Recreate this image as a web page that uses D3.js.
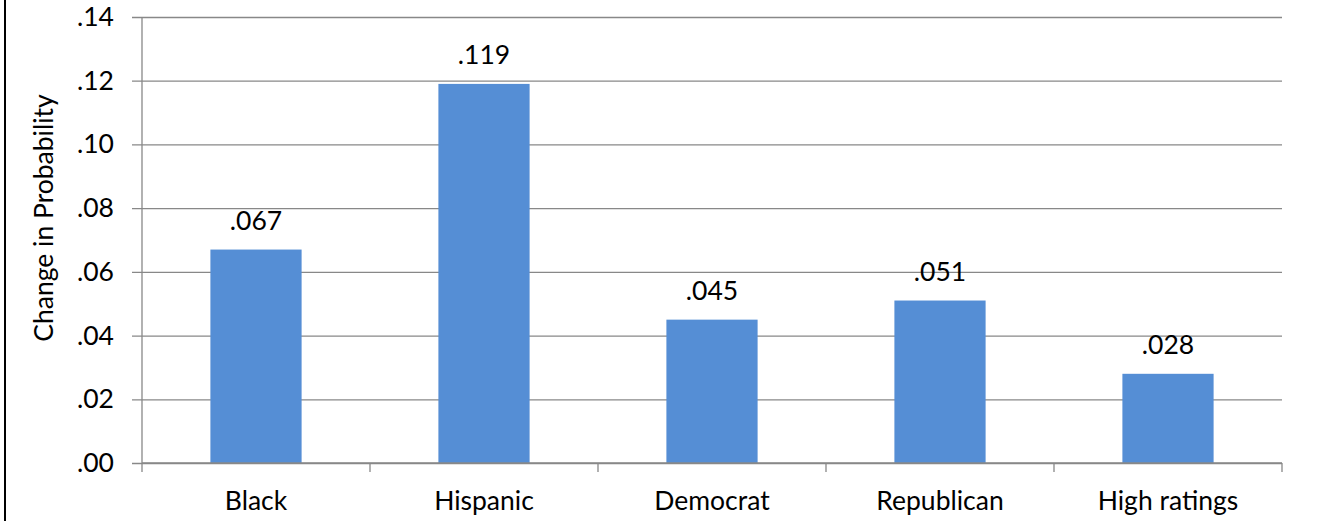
<!DOCTYPE html>
<html>
<head>
<meta charset="utf-8">
<script src="https://cdn.jsdelivr.net/npm/d3@7"></script>
<style>
  html, body { margin: 0; padding: 0; background: #fff; }
  svg text { font-family: Lato, 'Open Sans', sans-serif; fill: #000; }
</style>
</head>
<body>
<div id="chart"></div>
<script>
// values
const categories = ['Black', 'Hispanic', 'Democrat', 'Republican', 'High ratings'];
const values = [0.067, 0.119, 0.045, 0.051, 0.028];
const yTicks = [0, 0.02, 0.04, 0.06, 0.08, 0.10, 0.12, 0.14];

const W = 1327, H = 521;
const margin = { top: 17, right: 45, bottom: 58, left: 142 };
const width = W - margin.left - margin.right;
const height = H - margin.top - margin.bottom;
const fontSize = '26.5px';

const root = d3.select('#chart').append('svg')
  .attr('width', W)
  .attr('height', H);

// left border of the chart frame
root.append('line')
  .attr('x1', 5).attr('x2', 5)
  .attr('y1', 0).attr('y2', H)
  .attr('stroke', '#000')
  .attr('stroke-width', 2);

const svg = root.append('g')
  .attr('transform', `translate(${margin.left},${margin.top})`);

const x = d3.scaleBand().domain(categories).range([0, width])
  .paddingInner(0.6).paddingOuter(0.3);
const y = d3.scaleLinear().domain([0, 0.14]).range([height, 0]);

const fmt = d => d3.format('.2f')(d).replace(/^0/, '');
const gridColor = '#888888';

// Gridlines + left ticks
const yAxis = svg.append('g')
  .call(d3.axisLeft(y).tickValues(yTicks).tickFormat(fmt)
    .tickSize(-width).tickSizeOuter(0).tickPadding(28));
yAxis.select('.domain').remove();
yAxis.selectAll('.tick line')
  .attr('x1', -10)
  .attr('stroke', gridColor)
  .attr('stroke-width', 1.3);
yAxis.selectAll('.tick text')
  .style('font-size', fontSize)
  .style('font-family', 'Lato, sans-serif')
  .attr('fill', '#000');

// vertical axis line
svg.append('line')
  .attr('x1', 0).attr('x2', 0)
  .attr('y1', 0).attr('y2', height)
  .attr('stroke', gridColor)
  .attr('stroke-width', 1.3);

// bars
svg.selectAll('.bar')
  .data(categories)
  .enter().append('rect')
  .attr('class', 'bar')
  .attr('x', d => x(d))
  .attr('y', (d, i) => y(values[i]))
  .attr('width', x.bandwidth())
  .attr('height', (d, i) => height - y(values[i]))
  .attr('fill', '#558ed5');

// value labels
svg.selectAll('.val')
  .data(categories)
  .enter().append('text')
  .attr('class', 'val')
  .attr('x', d => x(d) + x.bandwidth() / 2)
  .attr('y', (d, i) => y(values[i]) - 20)
  .attr('text-anchor', 'middle')
  .style('font-size', fontSize)
  .text((d, i) => d3.format('.3f')(values[i]).replace(/^0/, ''));

// bottom axis with ticks at category boundaries
const step = x.step();
const bounds = d3.range(categories.length + 1).map(i => i * step);
svg.append('line')
  .attr('x1', 0).attr('x2', width)
  .attr('y1', height).attr('y2', height)
  .attr('stroke', gridColor)
  .attr('stroke-width', 1.3);
svg.selectAll('.xtick')
  .data(bounds)
  .enter().append('line')
  .attr('x1', d => d).attr('x2', d => d)
  .attr('y1', height).attr('y2', height + 9)
  .attr('stroke', gridColor)
  .attr('stroke-width', 1.3);

svg.selectAll('.cat')
  .data(categories)
  .enter().append('text')
  .attr('class', 'cat')
  .attr('x', d => x(d) + x.bandwidth() / 2)
  .attr('y', height + 47)
  .attr('text-anchor', 'middle')
  .style('font-size', fontSize)
  .text(d => d);

// y title
root.append('text')
  .attr('transform', `translate(53,218) rotate(-90)`)
  .attr('text-anchor', 'middle')
  .style('font-size', fontSize)
  .text('Change in Probability');
</script>
</body>
</html>
